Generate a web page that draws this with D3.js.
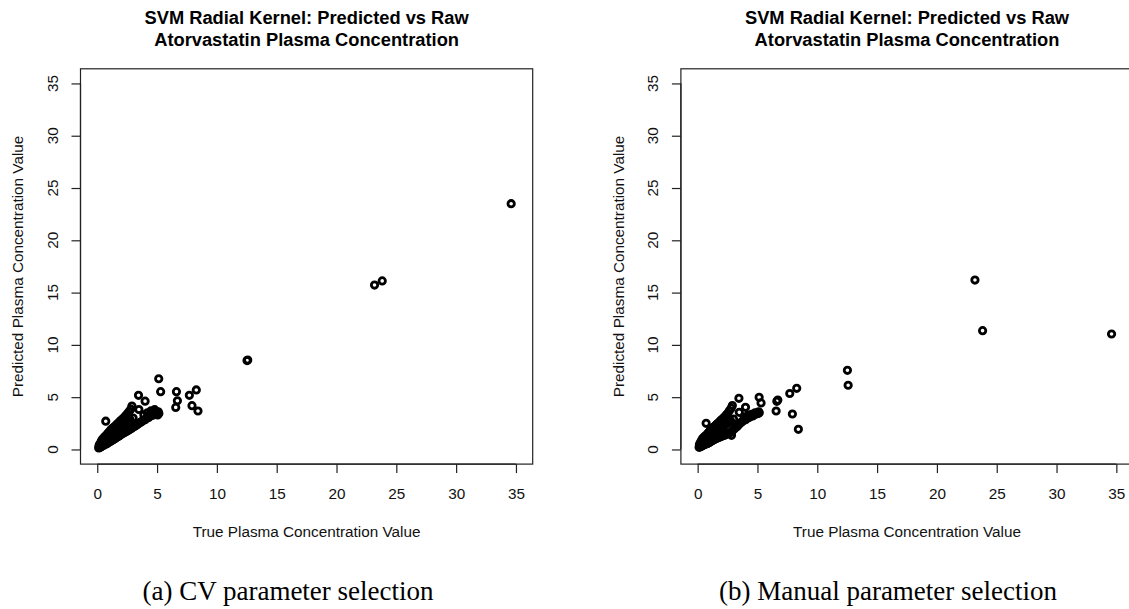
<!DOCTYPE html>
<html>
<head>
<meta charset="utf-8">
<script src="https://cdn.jsdelivr.net/npm/d3@7"></script>
<style>
  html, body { margin: 0; padding: 0; background: #fff; }
  svg { display: block; }
</style>
</head>
<body>
<svg id="chart" width="1129" height="609"></svg>
<script>
// ---------------- DATA ----------------
const titleLines = ["SVM Radial Kernel: Predicted vs Raw", "Atorvastatin Plasma Concentration"];
const xLabel = "True Plasma Concentration Value";
const yLabel = "Predicted Plasma Concentration Value";
const captions = ["(a) CV parameter selection", "(b) Manual parameter selection"];
const tickValues = [0, 5, 10, 15, 20, 25, 30, 35];

// True (raw) plasma concentrations (shared by both panels)
const trueValues = [
  0.71, 3.45, 4.00, 3.48, 5.14, 5.30, 6.62, 6.70, 6.56, 7.70, 8.28, 7.92, 8.42,
  12.52, 12.58, 23.18, 23.82, 34.60, 2.83,
  0.12, 0.15, 0.18, 0.20, 0.22, 0.25, 0.28, 0.30, 0.33, 0.35, 0.38, 0.40, 0.42, 0.45, 0.48, 0.50,
  0.52, 0.55, 0.58, 0.60, 0.63, 0.65, 0.68, 0.72, 0.75, 0.78, 0.80, 0.83, 0.85, 0.88, 0.90, 0.93,
  0.95, 0.98, 1.00, 1.03, 1.05, 1.08, 1.10, 1.13, 1.15, 1.18, 1.20, 1.23, 1.25, 1.28, 1.30, 1.33,
  1.35, 1.38, 1.40, 1.43, 1.45, 1.50, 1.52, 1.55, 1.58, 1.60, 1.65, 1.68, 1.70, 1.75, 1.78, 1.80,
  1.85, 1.88, 1.90, 1.95, 2.00, 2.05, 2.10, 2.15, 2.20, 2.25, 2.30, 2.35, 2.40, 2.45, 2.50, 2.55,
  2.60, 2.65, 2.70, 2.75, 2.80, 2.85, 2.90, 2.95, 3.00, 3.10, 3.20, 3.30, 3.40, 3.50, 3.60, 3.70,
  3.80, 3.90, 4.00, 4.10, 4.20, 4.30, 4.40, 4.50, 4.60, 4.70, 4.80, 4.90, 5.00, 5.05, 5.10, 5.15
];

// Predictions, CV-selected parameters
const predCV = [
  2.70, 5.18, 4.62, 3.82, 6.76, 5.53, 5.53, 4.66, 4.02, 5.18, 5.69, 4.19, 3.68,
  8.50, 8.55, 15.72, 16.12, 23.50, 2.30,
  0.15, 0.35, 0.22, 0.50, 0.18, 0.40, 0.62, 0.25, 0.45, 0.80, 0.30, 0.55, 0.95, 0.35, 0.70, 1.05,
  0.40, 0.62, 1.15, 0.45, 0.85, 1.25, 0.50, 0.80, 1.30, 0.55, 1.00, 1.45, 0.60, 0.95, 1.55, 0.68,
  1.10, 1.65, 0.72, 1.20, 1.75, 0.78, 1.15, 1.85, 0.82, 1.30, 1.95, 0.88, 1.35, 2.00, 0.92, 1.45,
  2.10, 0.98, 1.55, 2.15, 1.02, 1.65, 2.25, 1.10, 1.75, 2.35, 1.18, 1.85, 2.45, 1.25, 1.95, 2.55,
  1.32, 2.05, 2.70, 1.40, 2.20, 2.85, 1.50, 2.35, 3.00, 1.60, 2.45, 3.20, 1.70, 2.60, 3.40, 1.80,
  2.75, 3.60, 1.90, 2.85, 3.85, 2.00, 4.15, 2.10, 3.00, 2.20, 2.30, 2.35, 2.45, 2.50, 2.60, 2.65,
  2.75, 3.30, 2.85, 3.00, 3.50, 3.05, 3.20, 3.70, 3.25, 3.40, 3.80, 3.45, 3.55, 3.30, 3.60, 3.45
];

// Predictions, manually selected parameters
const predManual = [
  2.50, 4.89, 4.03, 3.55, 4.99, 4.45, 4.60, 4.72, 3.68, 5.35, 5.85, 3.39, 1.93,
  7.57, 6.14, 16.20, 11.36, 11.04, 1.35,
  0.20, 0.45, 0.30, 0.60, 0.25, 0.50, 0.75, 0.30, 0.55, 0.90, 0.35, 0.65, 1.05, 0.40, 0.75, 1.15,
  0.45, 0.70, 1.20, 0.50, 0.90, 1.30, 0.52, 0.85, 1.35, 0.55, 1.00, 1.50, 0.60, 1.00, 1.60, 0.65,
  1.10, 1.70, 0.70, 1.20, 1.80, 0.75, 1.20, 1.90, 0.80, 1.30, 2.00, 0.85, 1.40, 2.05, 0.90, 1.45,
  2.15, 0.95, 1.55, 2.20, 1.00, 1.60, 2.30, 1.05, 1.70, 2.40, 1.10, 1.80, 2.50, 1.15, 1.90, 2.60,
  1.20, 2.00, 2.75, 1.25, 2.10, 2.90, 1.30, 2.25, 3.05, 1.35, 2.35, 3.25, 1.45, 2.50, 3.45, 1.55,
  2.60, 3.70, 1.60, 2.75, 3.95, 1.70, 4.20, 1.85, 2.90, 2.00, 2.15, 2.20, 2.35, 2.45, 2.55, 2.65,
  2.75, 3.10, 2.85, 2.95, 3.25, 3.05, 3.15, 3.35, 3.20, 3.30, 3.50, 3.40, 3.50, 3.45, 3.60, 3.50
];

// ---------------- LAYOUT ----------------
const svg = d3.select("#chart");
const panelShift = 600.4;
const box = { left: 80.5, right: 532.7, top: 68.8, bottom: 464.1 };
const domain = [-1.4, 36.4];
const axisFont = "Liberation Sans, Arial, Helvetica, sans-serif";
const fs = 15.3;

const panels = [
  { pred: predCV, caption: captions[0], captionX: 288 },
  { pred: predManual, caption: captions[1], captionX: 888 }
];

panels.forEach((p, i) => {
  const dx = i * panelShift;
  const x = d3.scaleLinear().domain(domain).range([box.left + dx, box.right + dx]);
  const y = d3.scaleLinear().domain(domain).range([box.bottom, box.top]);
  const g = svg.append("g");

  // Title
  const cx = (box.left + box.right) / 2 + dx;
  titleLines.forEach((t, k) => {
    g.append("text")
      .attr("x", cx).attr("y", 24 + k * 22)
      .attr("text-anchor", "middle")
      .attr("font-family", axisFont).attr("font-weight", "bold")
      .attr("font-size", 18.3).attr("fill", "#000")
      .text(t);
  });

  // Points
  const clipId = "clip" + i;
  svg.append("clipPath").attr("id", clipId).append("rect")
    .attr("x", box.left + dx).attr("y", box.top)
    .attr("width", box.right - box.left).attr("height", box.bottom - box.top);
  g.append("g").attr("clip-path", `url(#${clipId})`)
    .selectAll("circle")
    .data(trueValues.map((t, j) => [t, p.pred[j]]))
    .join("circle")
    .attr("cx", d => x(d[0]))
    .attr("cy", d => y(d[1]))
    .attr("r", 3.2)
    .attr("fill", "none")
    .attr("stroke", "#000")
    .attr("stroke-width", 2.8);

  // Box
  g.append("rect")
    .attr("x", box.left + dx).attr("y", box.top)
    .attr("width", box.right - box.left).attr("height", box.bottom - box.top)
    .attr("fill", "none").attr("stroke", "#222").attr("stroke-width", 1.2);

  // X axis
  const xAxis = d3.axisBottom(x).tickValues(tickValues).tickSize(9).tickPadding(15).tickSizeOuter(0);
  const gx = g.append("g").attr("transform", `translate(0,${box.bottom})`).call(xAxis);
  gx.select(".domain").attr("stroke", "#222").attr("stroke-width", 1.2)
    .attr("d", `M${x(0)},0H${x(35)}`);
  gx.selectAll(".tick line").attr("stroke", "#222").attr("stroke-width", 1.2);
  gx.selectAll(".tick text").attr("font-family", axisFont).attr("font-size", fs).attr("fill", "#111");

  // Y axis
  const yAxis = d3.axisLeft(y).tickValues(tickValues).tickSize(9).tickSizeOuter(0).tickFormat("");
  const gy = g.append("g").attr("transform", `translate(${box.left + dx},0)`).call(yAxis);
  gy.select(".domain").attr("stroke", "#222").attr("stroke-width", 1.2)
    .attr("d", `M0,${y(0)}V${y(35)}`);
  gy.selectAll(".tick line").attr("stroke", "#222").attr("stroke-width", 1.2);
  g.selectAll(".ylab").data(tickValues).join("text")
    .attr("transform", d => `translate(${52.5 + dx},${y(d)}) rotate(-90)`)
    .attr("dy", "0.35em")
    .attr("text-anchor", "middle")
    .attr("font-family", axisFont).attr("font-size", fs).attr("fill", "#111")
    .text(d => d);

  // Axis titles
  g.append("text")
    .attr("x", cx).attr("y", 537)
    .attr("text-anchor", "middle")
    .attr("font-family", axisFont).attr("font-size", fs).attr("fill", "#111")
    .text(xLabel);
  g.append("text")
    .attr("transform", `translate(${18 + dx},${(box.top + box.bottom) / 2}) rotate(-90)`)
    .attr("dy", "0.35em")
    .attr("text-anchor", "middle")
    .attr("font-family", axisFont).attr("font-size", fs).attr("fill", "#111")
    .text(yLabel);

  // Caption
  g.append("text")
    .attr("x", p.captionX).attr("y", 600)
    .attr("text-anchor", "middle")
    .attr("font-family", "Liberation Serif, Times New Roman, serif")
    .attr("font-size", 27).attr("fill", "#000")
    .text(p.caption);
});
</script>
</body>
</html>
